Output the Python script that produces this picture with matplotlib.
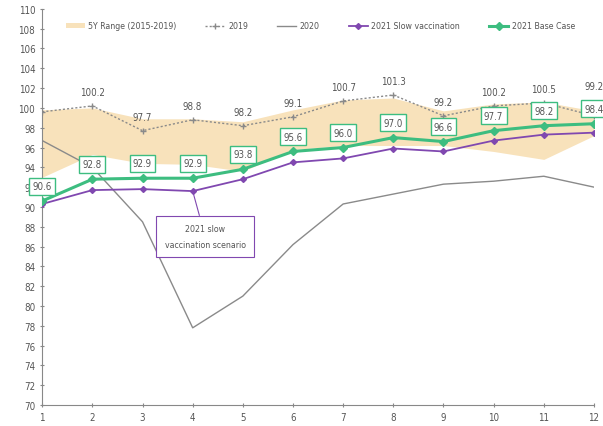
import matplotlib
matplotlib.use('Agg')
import matplotlib.pyplot as plt
from matplotlib.patches import Patch
from matplotlib.lines import Line2D

plt.rcParams['font.family'] = ['DejaVu Sans']
plt.rcParams['font.stretch'] = 'condensed'

months = [1, 2, 3, 4, 5, 6, 7, 8, 9, 10, 11, 12]
range_low = [93.0, 95.3, 94.4, 94.3, 93.6, 95.8, 96.2, 96.2, 96.2, 95.6, 94.8, 97.2]
range_high = [99.8, 100.0, 98.9, 98.9, 98.6, 99.8, 100.8, 101.0, 99.7, 100.4, 100.6, 99.7]
y2019 = [99.6, 100.2, 97.7, 98.8, 98.2, 99.1, 100.7, 101.3, 99.2, 100.2, 100.5, 99.2]
y2020 = [96.7, 94.0, 88.5, 77.8, 81.0, 86.2, 90.3, 91.3, 92.3, 92.6, 93.1, 92.0]
slow_vacc = [90.3, 91.7, 91.8, 91.6, 92.8, 94.5, 94.9, 95.9, 95.6, 96.7, 97.3, 97.5]
base_case = [90.6, 92.8, 92.9, 92.9, 93.8, 95.6, 96.0, 97.0, 96.6, 97.7, 98.2, 98.4]

band_col = '#f8e2bb'
green = '#3dbd80'
purple = '#8048b0'
grey = '#8a8a8a'
txt = '#555555'

fig = plt.figure(figsize=(6.03, 4.27), dpi=100)
ax = fig.add_axes([0.07, 0.049, 0.915, 0.928])

ax.fill_between(months, range_low, range_high, color=band_col, lw=0, zorder=1)
ax.plot(months, y2019, color=grey, ls=(0, (1.5, 1.5)), lw=1, marker='+', ms=4, zorder=2)
ax.plot(months, y2020, color=grey, lw=1, zorder=2)
ax.plot(months, slow_vacc, color=purple, lw=1.3, marker='D', ms=3, zorder=3)
ax.plot(months, base_case, color=green, lw=2.2, marker='D', ms=4.5, zorder=4)

# 2019 values, no label on the first month; last one pushed up above the base-case box
for m, v in zip(months[1:], y2019[1:]):
    off = 3.0 if m == months[-1] else 1.4
    ax.text(m, v + off, f'{v:.1f}', ha='center', va='center', fontsize=7, color=txt, zorder=5)

for m, v in zip(months, base_case):
    ax.text(m, v + 1.5, f'{v:.1f}', ha='center', va='center', fontsize=7, color=txt, zorder=6,
            bbox=dict(boxstyle='square,pad=0.35', fc='white', ec=green, lw=1))

ax.annotate('2021 slow\nvaccination scenario', xy=(months[3], slow_vacc[3]), xytext=(4.25, 87.0),
            ha='center', va='center', fontsize=6.3, color=txt, linespacing=2.0,
            bbox=dict(boxstyle='square,pad=0.95', fc='white', ec=purple, lw=0.8),
            arrowprops=dict(arrowstyle='-', color=purple, lw=0.8, shrinkA=0, shrinkB=2))

ax.set_xlim(1, 12)
ax.set_ylim(70, 110)
ax.set_xticks(months)
ax.set_yticks(range(70, 111, 2))
for s in ['top', 'right']:
    ax.spines[s].set_visible(False)
for s in ['left', 'bottom']:
    ax.spines[s].set_color('#888888')
ax.tick_params(colors='#888888', labelcolor=txt, labelsize=7, length=3, direction='inout')

handles = [
    Patch(facecolor=band_col, edgecolor='none'),
    Line2D([], [], color=grey, ls=(0, (1.5, 1.5)), lw=1, marker='+', ms=4),
    Line2D([], [], color=grey, lw=1),
    Line2D([], [], color=purple, lw=1.3, marker='D', ms=3),
    Line2D([], [], color=green, lw=2.2, marker='D', ms=4.5),
]
labels = ['5Y Range (2015-2019)', '2019', '2020', '2021 Slow vaccination', '2021 Base Case']
ax.legend(handles, labels, loc='center', bbox_to_anchor=(0.504, 0.957), ncol=5, frameon=False,
          fontsize=6.3, labelcolor=txt, handlelength=2.2, handleheight=0.5, columnspacing=3.3,
          handletextpad=0.4)

fig.savefig('out.png', dpi=100)
